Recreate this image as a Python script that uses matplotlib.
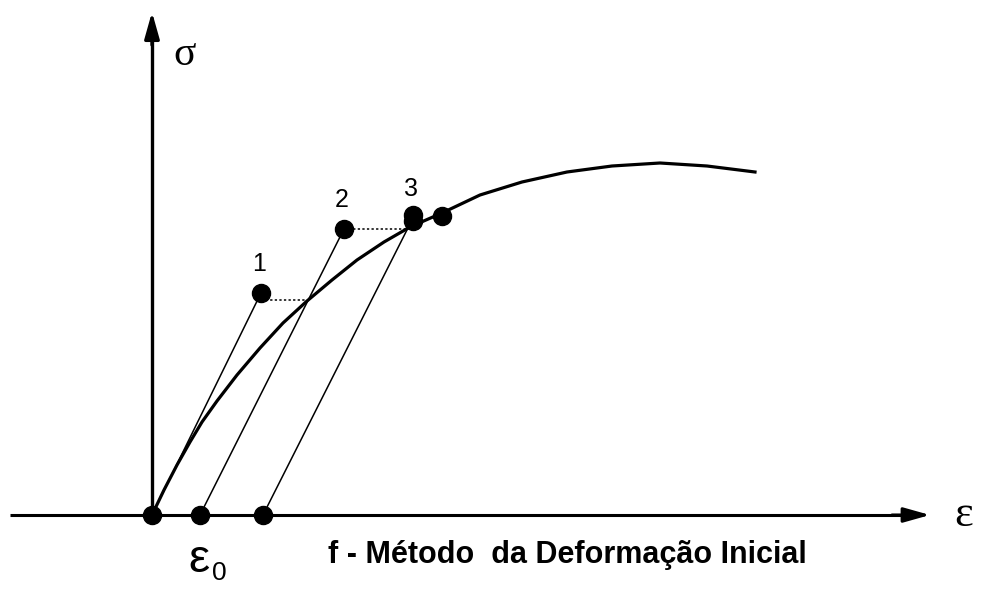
import matplotlib.pyplot as plt

plt.rcParams['font.family'] = ['Liberation Sans', 'DejaVu Sans']

# Diagram coordinates: strain (eps) to the right, stress (sig) upward,
# origin where the two axes cross.
curve_eps = [0, 12, 25, 38, 50, 65, 85, 108, 131, 155, 180, 205, 232, 258,
             290, 328, 370, 415, 460, 508, 555, 603]
curve_sig = [0, 25, 50, 73, 93, 114, 140, 167, 192, 214, 235, 255, 273, 288,
             302, 320, 333, 343, 349, 352, 349, 343]

# iteration points (1, 2, 3) and the extra point on the curve
iter_eps = [109, 192, 261]
iter_sig = [222, 286, 297]
iter_labels = ['1', '2', '3']
curve_pt_eps = [290]
curve_pt_sig = [299]

# starting points on the strain axis for the parallel elastic lines
start_eps = [0, 48, 111]

# dotted horizontal links from each point to the curve
dot_from = [109, 192]
dot_to = [154, 256]
dot_sig = [215, 286]

fig = plt.figure(figsize=(9.81, 5.92), dpi=100)
ax = fig.add_axes([0, 0, 1, 1])
ax.set_xlim(-152, 829)
ax.set_ylim(-77, 515)
ax.axis('off')

# axes of the diagram
ax.plot([-142, 760], [0, 0], color='black', lw=2.2, solid_capstyle='butt')
ax.plot([0, 0], [0, 480], color='black', lw=2.4, solid_capstyle='butt')
ax.annotate('', xy=(778, 0), xytext=(740, 0),
            arrowprops=dict(arrowstyle='-|>,head_length=1.6,head_width=0.45',
                            color='black', lw=2.2, shrinkA=0, shrinkB=0))
ax.annotate('', xy=(0, 503), xytext=(0, 470),
            arrowprops=dict(arrowstyle='-|>,head_length=1.6,head_width=0.45',
                            color='black', lw=2.4, shrinkA=0, shrinkB=0))

# stress-strain curve
ax.plot(curve_eps, curve_sig, color='black', lw=2.3, solid_joinstyle='round')

# elastic (parallel) lines from strain axis to each point
for e0, e1, s1 in zip(start_eps, iter_eps, iter_sig):
    ax.plot([e0, e1], [0, s1], color='black', lw=1.1)

# dotted links
for a, b, s in zip(dot_from, dot_to, dot_sig):
    ax.plot([a, b], [s, s], color='black', lw=1.1, linestyle=(0, (1.5, 1.5)))

# markers
ax.plot(iter_eps[:2], iter_sig[:2], 'o', color='black', ms=13, zorder=5)
ax.plot([iter_eps[2], iter_eps[2]], [iter_sig[2] - 3, iter_sig[2] + 3], 'o',
        color='black', ms=13, zorder=5)
ax.plot(curve_pt_eps, curve_pt_sig, 'o', color='black', ms=13, zorder=5)
ax.plot(start_eps, [0] * len(start_eps), 'o', color='black', ms=13, zorder=5)

for e, s, lab in zip(iter_eps, iter_sig, iter_labels):
    ax.text(e - 2, s + 29, lab, ha='center', va='center', fontsize=18)

# axis symbols
ax.text(33, 460, 'σ', ha='center', va='center', fontsize=30,
        family='Liberation Serif')
ax.text(812, 0, 'ε', ha='center', va='center', fontsize=32,
        family='Liberation Serif')
ax.text(47, -45, 'ε', ha='center', va='center', fontsize=34)
ax.text(67, -58, '0', ha='center', va='center', fontsize=19)

ax.text(176, -48, 'f - Método  da Deformação Inicial', ha='left',
        va='baseline', fontsize=22, fontweight='bold')

fig.savefig('out.png', dpi=100)
